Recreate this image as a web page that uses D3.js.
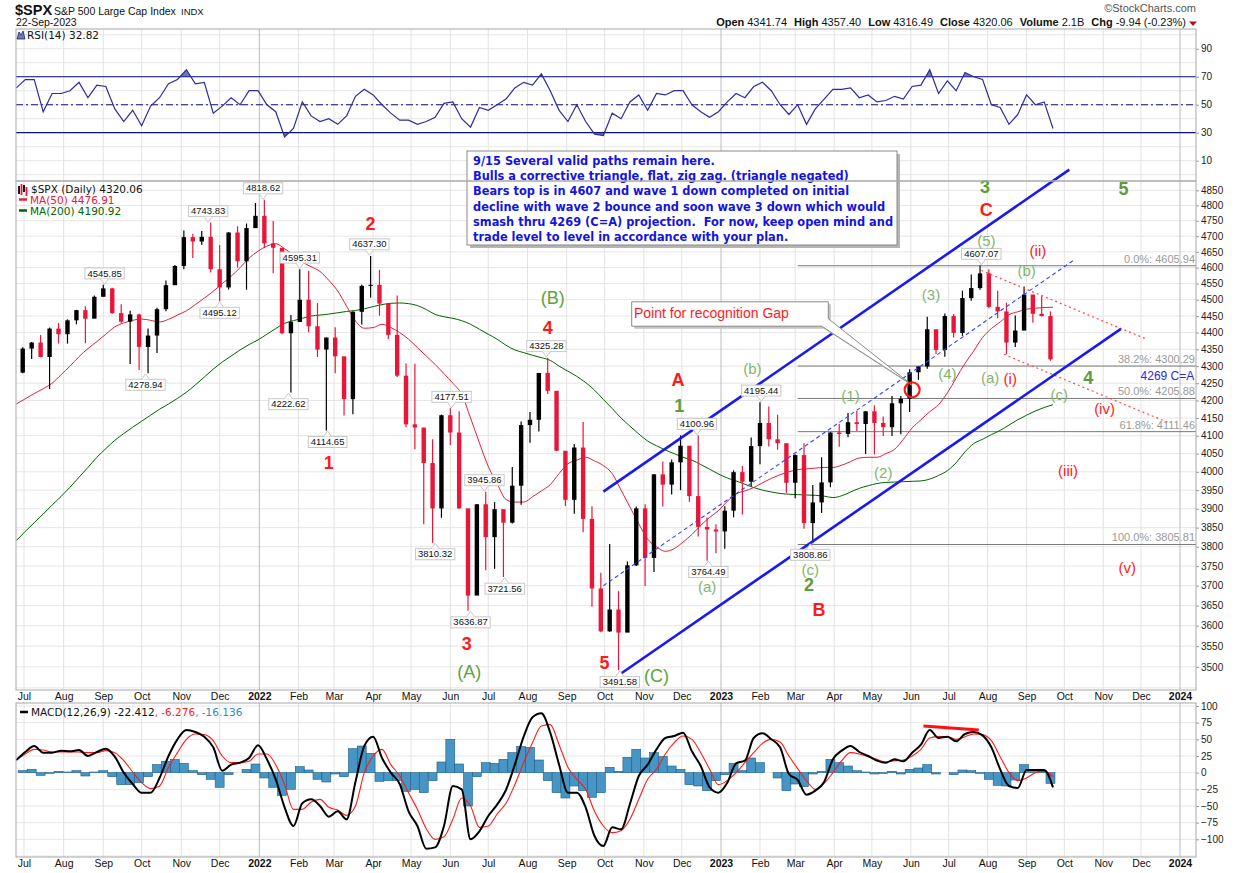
<!doctype html>
<html>
<head>
<meta charset="utf-8">
<title>$SPX Daily</title>
<script src="https://d3js.org/d3.v7.min.js"></script>
<style>
  body { margin: 0; background: #fff; }
  svg { display: block; }
  text { font-family: "Liberation Sans", Arial, sans-serif; }
  .verd { font-family: "DejaVu Sans", Verdana, sans-serif; }
</style>
</head>
<body>
<script>
// week ending Fridays, 25-Jun-2021 .. 22-Sep-2023 (118 weeks)
var parse = d3.timeParse("%Y-%m-%d");
var firstWeek = "2021-06-25", lastWeek = "2023-09-22";

var closes = [
  4281,4352,4370,4327,4412,4395,4437,4468,4442,4509,4535,4459,4433,4455,4357,4391,4471,4545,4605,4697,4683,4698,4595,4538,4712,4620,4726,4766,
  4677,4663,4398,4432,4500,4419,4349,4385,4329,4204,4463,4543,4546,4488,4393,4272,4132,4123,4024,3901,4158,4109,3901,3675,3912,3825,
  3899,3863,3962,4130,4145,4280,4228,4058,3924,4067,3873,3693,3586,3640,3583,3752,3901,3771,3993,3965,4026,4072,3934,3852,3845,3840,
  3895,3999,3973,4071,4136,4090,4079,3970,4046,3862,3917,3971,4109,4105,4138,4133,4169,4136,4124,4192,4205,4282,4299,4410,4348,4450,
  4399,4505,4536,4582,4478,4464,4370,4406,4516,4457,4450,4320];
var highs = [
  4286,4356,4372,4393,4415,4429,4440,4469,4480,4513,4546,4537,4486,4466,4457,4412,4475,4560,4608,4718,4708,4717,4744,4672,4713,4732,4741,4808,
  4819,4749,4611,4453,4595,4590,4490,4385,4416,4327,4465,4546,4637,4593,4471,4513,4308,4307,4081,4090,4160,4178,4169,3838,3913,3946,
  3918,3891,4013,4140,4167,4280,4325,4203,4041,4077,4139,3907,3733,3807,3686,3762,3906,3912,3993,4028,4034,4101,4052,4101,3877,3859,
  3907,4004,4016,4095,4195,4183,4159,4068,4048,4079,3964,4040,4110,4133,4164,4170,4170,4186,4154,4213,4213,4291,4299,4448,4409,4458,
  4456,4528,4578,4607,4595,4528,4491,4452,4541,4515,4511,4464];
var lows = [
  4262,4279,4321,4326,4233,4367,4367,4425,4368,4448,4510,4457,4427,4306,4289,4279,4339,4465,4547,4595,4630,4672,4585,4495,4532,4600,4531,4733,
  4662,4582,4395,4223,4451,4401,4327,4115,4279,4157,4161,4424,4506,4451,4381,4268,4124,4062,3859,3810,3876,4074,3900,3637,3705,3739,
  3743,3722,3861,3911,4080,4112,4219,4057,3907,3887,3838,3647,3584,3585,3492,3642,3750,3699,3735,3906,3938,3950,3919,3827,3764,3783,
  3795,3877,3885,3960,4021,4070,4061,3943,3928,3847,3809,3889,3958,4069,4096,4113,4049,4048,4099,4099,4104,4167,4260,4292,4336,4328,
  4385,4390,4497,4531,4474,4443,4335,4357,4415,4430,4449,4316];
var firstOpen = 4270;

var ma50 = [
  4190,4205,4220,4234,4250,4275,4300,4328,4352,4373,4395,4417,4429,4437,4441,4437,4432,4440,4453,4466,4485,4505,4526,4550,4573,4600,4630,4652,
  4668,4676,4660,4640,4617,4603,4588,4560,4527,4480,4435,4413,4415,4425,4415,4400,4380,4355,4330,4305,4278,4250,4218,4150,4080,4015,
  3968,3925,3918,3918,3932,3948,3965,3995,4022,4032,4040,4030,4017,3995,3950,3905,3860,3820,3800,3788,3795,3812,3832,3856,3877,3895,
  3920,3940,3948,3957,3970,3982,3992,4000,4006,4008,4010,4012,4012,4018,4028,4038,4040,4040,4050,4062,4090,4122,4145,4168,4188,4222,
  4265,4308,4345,4385,4412,4432,4454,4463,4471,4474,4476,4477];
var ma200 = [
  3816,3840,3863,3886,3910,3933,3958,3985,4012,4040,4064,4087,4106,4124,4141,4158,4175,4190,4206,4224,4245,4268,4291,4312,4330,4348,4364,4378,
  4395,4412,4428,4436,4443,4450,4453,4456,4460,4464,4467,4472,4479,4485,4489,4490,4488,4482,4470,4455,4448,4443,4436,4425,4410,4395,
  4380,4362,4348,4340,4332,4325,4317,4300,4285,4270,4252,4230,4203,4177,4150,4127,4105,4085,4072,4060,4050,4040,4032,4020,4007,3994,
  3983,3975,3966,3957,3950,3945,3941,3939,3938,3937,3936,3934,3930,3935,3945,3955,3962,3968,3971,3972,3973,3974,3975,3980,3990,4003,
  4025,4055,4078,4090,4103,4115,4130,4145,4158,4170,4180,4188];
var rsi = [
  62,68,68,45,58,58,60,66,55,64,63,47,38,46,35,49,55,65,68,75,65,66,44,49,55,50,60,60,
  50,45,27,33,52,42,38,40,36,42,56,61,57,50,44,39,39,36,38,41,51,52,40,34,48,46,
  50,54,62,66,64,72,60,46,38,50,38,29,28,44,40,52,57,46,58,57,60,60,50,45,41,45,
  52,58,55,63,66,60,50,43,50,36,47,54,61,61,62,55,57,52,53,56,54,63,64,75,58,67,
  60,73,70,68,50,48,36,43,57,50,52,33];
var macd = [
  19,31,40,30,30,33,32,34,25,31,36,24,0,-17,-30,-30,-8,25,50,64,61,54,38,3,12,15,22,41,
  20,-10,-52,-80,-46,-40,-50,-66,-58,-70,-14,40,54,22,0,-17,-58,-80,-114,-112,-80,-20,-25,-100,-88,-65,
  -48,-26,12,54,83,89,60,12,-30,-30,-52,-95,-110,-82,-85,-47,-5,12,35,52,55,60,32,10,-22,-30,
  -15,14,18,52,59,50,38,-2,-11,-33,-27,-14,20,33,40,31,25,18,15,20,17,30,42,64,52,54,
  47,58,61,56,38,5,-20,-23,4,4,4,-22];
var signal = [
  19,28,35,34,31,31,31,31,30,30,33,30,18,1,-15,-24,-20,8,30,50,58,57,48,25,15,15,17,28,
  28,12,-18,-55,-55,-44,-40,-52,-56,-64,-50,0,25,35,12,-5,-30,-55,-84,-100,-96,-70,-38,-50,-82,-80,
  -62,-46,-18,15,45,70,72,42,8,-10,-25,-58,-80,-90,-87,-70,-40,-10,5,28,45,55,50,30,5,-18,
  -12,0,15,30,44,50,46,25,6,-12,-25,-16,0,18,30,28,24,20,16,18,19,25,35,52,54,54,
  50,54,58,57,48,24,0,-12,-8,0,2,-6];

// highs / lows marked on the chart: date, value, 1 = above, -1 = below
var priceLabels = [
  ["2021-09-02",4545.85,1],["2021-10-04",4278.94,-1],["2021-11-22",4743.83,1],["2021-12-01",4495.12,-1],
  ["2022-01-04",4818.62,1],["2022-01-24",4222.62,-1],["2022-02-02",4595.31,1],["2022-02-24",4114.65,-1],
  ["2022-03-29",4637.30,1],["2022-05-20",3810.32,-1],["2022-06-02",4177.51,1],["2022-06-17",3636.87,-1],
  ["2022-06-28",3945.86,1],["2022-07-14",3721.56,-1],["2022-08-16",4325.28,1],["2022-10-13",3491.58,-1],
  ["2022-12-13",4100.96,1],["2022-12-22",3764.49,-1],["2023-02-02",4195.44,1],["2023-03-13",3808.86,-1],
  ["2023-07-27",4607.07,1]];

var fibLevels = [["0.0%",4605.94],["38.2%",4300.29],["50.0%",4205.88],["61.8%",4111.46],["100.0%",3805.81]];
var fibStart = "2023-03-03";

var waveRed = [["2","2022-03-30",4742],["1","2022-02-25",4026],["3","2022-06-14",3556],["4","2022-08-17",4416],
  ["5","2022-10-01",3510],["A","2022-11-28",4260],["B","2023-03-20",3640],["C","2023-07-31",4785]];
var waveGreen = [["1","2022-11-29",4187],["2","2023-03-12",3702],["3","2023-07-30",4861],["4","2023-10-20",4267],["5","2023-11-17",4855]];
var waveParen = [["(B)","2022-08-21",4506],["(A)","2022-06-16",3488],["(C)","2022-11-11",3479]];
var waveMinor = [["(b)","2023-01-26",4292],["(a)","2022-12-21",3697],["(c)","2023-03-13",3742],["(1)","2023-04-14",4213],
  ["(2)","2023-05-10",3998],["(3)","2023-06-17",4517],["(4)","2023-06-30",4278],["(5)","2023-07-31",4686],
  ["(b)","2023-09-01",4591],["(a)","2023-08-03",4267],["(c)","2023-09-27",4216]];
var waveRedMinor = [["(ii)","2023-09-10",4654],["(i)","2023-08-19",4263],["(iv)","2023-11-02",4176],["(iii)","2023-10-04",4003],["(v)","2023-11-20",3747]];

var channelUpper = [["2022-09-30",3946],["2023-10-05",4919]];
var channelLower = [["2022-10-12",3480],["2023-11-15",4411]];
var channelMid = [["2022-09-30",3700],["2023-10-09",4625]];
var redDotUpper = [["2023-07-27",4591],["2023-12-05",4381]];
var redDotLower = [["2023-08-14",4335],["2023-12-24",4135]];
var gapCircle = ["2023-06-02",4231];
var macdTopLine = [["2023-06-11",70],["2023-07-25",64]];

var noteLines = [
  "9/15 Several valid paths remain here.",
  "Bulls a corrective triangle, flat, zig zag. (triangle negated)",
  "Bears top is in 4607 and wave 1 down completed on initial",
  "decline with wave 2 bounce and soon wave 3 down which would",
  "smash thru 4269 (C=A) projection.  For now, keep open mind and",
  "trade level to level in accordance with your plan."];

var priceTicks = d3.range(3500, 4851, 50);
var rsiTicks = [90, 70, 50, 30, 10];
var macdTicks = [100, 75, 50, 25, 0, -25, -50, -75, -100];

// ---------------------------------------------------------------
var W = 1240, H = 873, L = 16, R = 1196;
var weeks = d3.timeFriday.range(parse(firstWeek), d3.timeDay.offset(parse(lastWeek), 1));
var mid = function(d) { return d3.timeDay.offset(d, -2); };

var x = d3.scaleTime()
  .domain([new Date(2021,6,1), new Date(2022,0,1), new Date(2023,0,1), new Date(2024,0,1)])
  .range([24, 259.3, 721, 1180]);
var ry = d3.scaleLinear().domain([-4.5, 104.1]).range([181, 29]);
var y = d3.scaleLog().domain([3445, 4881]).range([690, 181]);
var my = d3.scaleLinear().domain([-126.5, 104.5]).range([857, 703]);

var RED = "#e8173a", GRN = "#5c9c3c", LGRN = "#82b66c", WRED = "#ff1a1a";

var svg = d3.select("body").append("svg").attr("width", W).attr("height", H);
svg.append("rect").attr("width", W).attr("height", H).attr("fill", "#fff");

var defs = svg.append("defs");
function clip(id, y0, y1) {
  defs.append("clipPath").attr("id", id).append("rect")
    .attr("x", L).attr("y", y0).attr("width", R - L).attr("height", y1 - y0);
}
clip("cRsi", 29, 181); clip("cPrice", 181, 690); clip("cMacd", 703, 857);
clip("cRsiHi", 29, ry(70)); clip("cRsiLo", ry(30), 181);

var months = d3.timeMonth.range(new Date(2021,6,1), new Date(2024,0,2));

// grids
function vgrid(top, bottom) {
  svg.append("g").selectAll("line").data(months).join("line")
    .attr("x1", function(d){ return x(d); }).attr("x2", function(d){ return x(d); })
    .attr("y1", top).attr("y2", bottom)
    .attr("stroke", function(d){ return d.getMonth() === 0 ? "#bcbcbc" : "#e3e3e3"; });
}
function hgrid(vals, sc) {
  svg.append("g").selectAll("line").data(vals).join("line")
    .attr("x1", L).attr("x2", R)
    .attr("y1", function(d){ return sc(d); }).attr("y2", function(d){ return sc(d); })
    .attr("stroke", "#e6e6e6");
}
hgrid(d3.range(0, 101, 10), ry); vgrid(29, 181);
hgrid(d3.range(3450, 4851, 50), y); vgrid(181, 690);
hgrid(d3.range(-125, 101, 25), my); vgrid(703, 857);

// month labels
function monthAxis(yy) {
  var g = svg.append("g").attr("transform", "translate(0," + yy + ")")
    .call(d3.axisBottom(x).tickValues(months).tickSize(0).tickPadding(2)
      .tickFormat(function(d){ return d.getMonth() === 0 ? d3.timeFormat("%Y")(d) : d3.timeFormat("%b")(d); }));
  g.select(".domain").remove();
  g.attr("font-family", "Liberation Sans, Arial, sans-serif").attr("font-size", 10.5);
  g.selectAll("text").attr("fill", "#111")
    .attr("font-weight", function(d){ return d.getMonth() === 0 ? "bold" : "normal"; });
}
monthAxis(691); monthAxis(858);

// right axes
function rightAxis(sc, vals, fmt) {
  var g = svg.append("g").attr("transform", "translate(" + R + ",0)")
    .call(d3.axisRight(sc).tickValues(vals).tickSize(3).tickPadding(2).tickFormat(fmt));
  g.select(".domain").remove();
  g.attr("font-family", "Liberation Sans, Arial, sans-serif").attr("font-size", 10);
  g.selectAll("line").attr("stroke", "#999");
  g.selectAll("text").attr("fill", "#222");
}
rightAxis(ry, rsiTicks, d3.format("d"));
rightAxis(y, priceTicks, d3.format("d"));
rightAxis(my, macdTicks, d3.format("d"));

// ---------------- RSI panel ----------------
var rsiG = svg.append("g").attr("clip-path", "url(#cRsi)");
var rsiLine = d3.line().x(function(d,i){ return x(weeks[i]); }).y(function(d){ return ry(d); });
rsiG.append("path").datum(rsi).attr("clip-path", "url(#cRsiHi)")
  .attr("d", d3.area().x(function(d,i){ return x(weeks[i]); }).y0(ry(70)).y1(function(d){ return ry(d); }))
  .attr("fill", "#6a7fa6");
rsiG.append("path").datum(rsi).attr("clip-path", "url(#cRsiLo)")
  .attr("d", d3.area().x(function(d,i){ return x(weeks[i]); }).y0(ry(30)).y1(function(d){ return ry(d); }))
  .attr("fill", "#6a7fa6");
[70, 30].forEach(function(v){
  rsiG.append("line").attr("x1", L).attr("x2", R).attr("y1", ry(v)).attr("y2", ry(v)).attr("stroke", "#10107a").attr("stroke-width", 1.2);
});
rsiG.append("line").attr("x1", L).attr("x2", R).attr("y1", ry(50)).attr("y2", ry(50))
  .attr("stroke", "#10107a").attr("stroke-width", 1.1).attr("stroke-dasharray", "7,3,2,3");
rsiG.append("path").datum(rsi).attr("d", rsiLine).attr("fill", "none").attr("stroke", "#2d2d9c").attr("stroke-width", 1.2);

// ---------------- price panel ----------------
var pG = svg.append("g").attr("clip-path", "url(#cPrice)");
// fib levels
var fx0 = x(parse(fibStart));
fibLevels.forEach(function(f){
  pG.append("line").attr("x1", fx0).attr("x2", R).attr("y1", y(f[1])).attr("y2", y(f[1]))
    .attr("stroke", "#7a7a7a").attr("stroke-width", 1);
  pG.append("text").attr("x", R - 1).attr("y", y(f[1]) - 3).attr("text-anchor", "end")
    .attr("font-size", 11).attr("fill", "#9a9a9a").text(f[0] + ": " + f[1].toFixed(2));
});
var maLine = function(arr) {
  return d3.line().curve(d3.curveMonotoneX).x(function(d,i){ return x(weeks[i]); }).y(function(d){ return y(d); })(arr);
};
pG.append("path").attr("d", maLine(ma200)).attr("fill", "none").attr("stroke", "#006400").attr("stroke-width", 1);
pG.append("path").attr("d", maLine(ma50)).attr("fill", "none").attr("stroke", "#e0203c").attr("stroke-width", 1);

// weekly candles
var cG = pG.append("g");
weeks.forEach(function(d, i) {
  var cx = x(mid(d));
  var open = i ? closes[i-1] : firstOpen;
  var down = open > closes[i];
  var col = down ? RED : "#000";
  cG.append("line").attr("x1", cx).attr("x2", cx).attr("y1", y(highs[i])).attr("y2", y(lows[i]))
    .attr("stroke", col).attr("stroke-width", 1.2);
  var top = y(Math.max(open, closes[i])), bot = y(Math.min(open, closes[i]));
  cG.append("rect").attr("x", cx - 2.2).attr("y", top).attr("width", 4.4).attr("height", Math.max(1, bot - top))
    .attr("fill", col);
});

// trend lines
function tline(pts, stroke, w, dash) {
  var p = svg.append("line")
    .attr("x1", x(parse(pts[0][0]))).attr("y1", y(pts[0][1]))
    .attr("x2", x(parse(pts[1][0]))).attr("y2", y(pts[1][1]))
    .attr("stroke", stroke).attr("stroke-width", w);
  if (dash) p.attr("stroke-dasharray", dash);
}
tline(redDotUpper, "#ff4a4a", 1.2, "2,3");
tline(redDotLower, "#ff4a4a", 1.2, "2,3");
tline(channelMid, "#3344ff", 1.1, "4,3");
tline(channelUpper, "#1a1aee", 2.6);
tline(channelLower, "#1a1aee", 2.6);

// note box
var nb = svg.append("g");
nb.append("rect").attr("x", 470).attr("y", 154).attr("width", 430).attr("height", 94).attr("fill", "#b5b5b5");
nb.append("rect").attr("x", 467).attr("y", 151).attr("width", 430).attr("height", 94).attr("fill", "#fff").attr("stroke", "#8a8a8a");
noteLines.forEach(function(t, i){
  nb.append("text").attr("class", "verd").attr("x", 473).attr("y", 165 + i * 15.2)
    .attr("font-size", 11.4).attr("font-weight", "bold").attr("fill", "#1414e0")
    .style("white-space", "pre").text(t);
});

// callout
var co = svg.append("g");
var call = [[631.7,301.8],[828.3,301.8],[828.3,318.7],[911.7,384.7],[821.7,326.2],[631.7,326.2]];
co.append("polygon").attr("points", call.map(function(p){ return (p[0]+2.5) + "," + (p[1]+2.5); }).join(" ")).attr("fill", "#c4c4c4");
co.append("polygon").attr("points", call.map(function(p){ return p.join(","); }).join(" ")).attr("fill", "#fff").attr("stroke", "#8a8a8a");
co.append("text").attr("x", 634).attr("y", 318).attr("font-size", 14).attr("fill", WRED).text("Point for recognition Gap");

svg.append("circle").attr("cx", x(parse(gapCircle[0]))).attr("cy", y(gapCircle[1])).attr("r", 7.5)
  .attr("fill", "none").attr("stroke", WRED).attr("stroke-width", 2.2);

// value labels
var lab = svg.append("g");
priceLabels.forEach(function(p){
  var px = x(parse(p[0])), py = y(p[1]), up = p[2] > 0;
  var g = lab.append("g");
  var t = g.append("text").attr("x", px).attr("text-anchor", "middle").attr("font-size", 9.5)
    .attr("fill", "#111").text(p[1].toFixed(2));
  var w = t.node().getComputedTextLength() + 5;
  var by = up ? py - 17 : py + 6;
  t.attr("y", by + 8.6);
  g.insert("rect", "text").attr("x", px - w/2).attr("y", by).attr("width", w).attr("height", 11)
    .attr("fill", "#fff").attr("stroke", "#c8c8c8");
  var baseY = up ? by + 11 : by, tipY = up ? py - 0.5 : py + 0.5;
  g.insert("path", "text").attr("d", "M" + (px-4) + "," + baseY + "L" + px + "," + tipY + "L" + (px+4) + "," + baseY)
    .attr("fill", "#fff").attr("stroke", "#c8c8c8");
});

// wave counts
function waves(arr, size, weight, color) {
  svg.append("g").selectAll("text").data(arr).join("text")
    .attr("x", function(d){ return x(parse(d[1])); })
    .attr("y", function(d){ return y(d[2]); })
    .attr("dy", "0.36em").attr("text-anchor", "middle")
    .attr("font-size", size).attr("font-weight", weight).attr("fill", color)
    .text(function(d){ return d[0]; });
}
waves(waveRed, 18, "bold", WRED);
waves(waveGreen, 18, "bold", GRN);
waves(waveParen, 18, "normal", "#5ea23e");
waves(waveMinor, 15, "normal", LGRN);
waves(waveRedMinor, 15, "normal", WRED);
svg.append("text").attr("x", x(parse("2023-12-22"))).attr("y", y(4273)).attr("dy", "0.36em")
  .attr("text-anchor", "middle").attr("font-size", 12).attr("fill", "#2727e6").text("4269 C=A");

// ---------------- MACD panel ----------------
var mG = svg.append("g").attr("clip-path", "url(#cMacd)");
var bw = x(weeks[1]) - x(weeks[0]);
weeks.forEach(function(d, i){
  var h = macd[i] - signal[i];
  mG.append("rect").attr("x", x(mid(d)) - bw/2).attr("width", bw)
    .attr("y", my(Math.max(0, h))).attr("height", Math.abs(my(h) - my(0)))
    .attr("fill", "#4795c4").attr("stroke", "#1d5d86").attr("stroke-width", 0.6);
});
var mLine = d3.line().curve(d3.curveMonotoneX).x(function(d,i){ return x(weeks[i]); }).y(function(d){ return my(d); });
mG.append("path").datum(signal).attr("d", mLine).attr("fill", "none").attr("stroke", "#ff1a1a").attr("stroke-width", 1.1);
mG.append("path").datum(macd).attr("d", mLine).attr("fill", "none").attr("stroke", "#000").attr("stroke-width", 2);
mG.append("line")
  .attr("x1", x(parse(macdTopLine[0][0]))).attr("y1", my(macdTopLine[0][1]))
  .attr("x2", x(parse(macdTopLine[1][0]))).attr("y2", my(macdTopLine[1][1]))
  .attr("stroke", "#ff1010").attr("stroke-width", 3);

// panel borders
[[29,181],[181,690],[703,857]].forEach(function(b){
  svg.append("rect").attr("x", L).attr("y", b[0]).attr("width", R - L).attr("height", b[1] - b[0])
    .attr("fill", "none").attr("stroke", "#a8a8a8");
});

// ---------------- header & legends ----------------
svg.append("text").attr("x", 15).attr("y", 15).attr("font-size", 14.5).attr("font-weight", "bold").attr("fill", "#111").text("$SPX");
svg.append("text").attr("x", 54).attr("y", 14.5).attr("font-size", 10.5).attr("fill", "#111").text("S&P 500 Large Cap Index");
svg.append("text").attr("x", 181).attr("y", 14.5).attr("font-size", 9.5).attr("fill", "#111").text("INDX");
svg.append("text").attr("x", 16).attr("y", 26).attr("font-size", 10.5).attr("fill", "#111").text("22-Sep-2023");
svg.append("text").attr("x", 1196).attr("y", 12).attr("text-anchor", "end").attr("font-size", 11).attr("fill", "#555").text("\u00a9StockCharts.com");

var hdr = svg.append("text").attr("x", 1186).attr("y", 25.5).attr("text-anchor", "end").attr("font-size", 11).attr("fill", "#111");
[["Open","4341.74"],["High","4357.40"],["Low","4316.49"],["Close","4320.06"],["Volume","2.1B"],["Chg","-9.94 (-0.23%)"]].forEach(function(p, i){
  hdr.append("tspan").attr("font-weight", "bold").attr("dx", i ? 7 : 0).text(p[0]);
  hdr.append("tspan").attr("dx", 3).text(p[1]);
});
svg.append("path").attr("d", "M1189,21.5L1197,21.5L1193,26Z").attr("fill", "#b01020");

// RSI legend
svg.append("path").attr("d", "M17,39L19,32L21,35L23,31L25,39Z").attr("fill", "#6a7fa6").attr("stroke", "#1c1c80").attr("stroke-width", 0.8);
svg.append("text").attr("class", "verd").attr("x", 27).attr("y", 38.5).attr("font-size", 10.5).attr("fill", "#111").text("RSI(14) 32.82");

// price legend
[[19,186,194,"#000"],[21.5,184,195,RED],[24,185,192,"#000"],[26.5,187,196,RED]].forEach(function(c){
  svg.append("line").attr("x1", c[0]).attr("x2", c[0]).attr("y1", c[1]).attr("y2", c[2]).attr("stroke", c[3]).attr("stroke-width", 1.8);
});
svg.append("text").attr("class", "verd").attr("x", 31).attr("y", 192.5).attr("font-size", 10.5).attr("fill", "#111").text("$SPX (Daily) 4320.06");
svg.append("line").attr("x1", 19).attr("x2", 27).attr("y1", 199.5).attr("y2", 199.5).attr("stroke", "#e0203c").attr("stroke-width", 2.5);
svg.append("text").attr("class", "verd").attr("x", 30).attr("y", 203.5).attr("font-size", 10.5).attr("fill", "#e0203c").text("MA(50) 4476.91");
svg.append("line").attr("x1", 19).attr("x2", 27).attr("y1", 210.5).attr("y2", 210.5).attr("stroke", "#006400").attr("stroke-width", 2.5);
svg.append("text").attr("class", "verd").attr("x", 30).attr("y", 214.5).attr("font-size", 10.5).attr("fill", "#006400").text("MA(200) 4190.92");

// MACD legend
svg.append("line").attr("x1", 20).attr("x2", 28).attr("y1", 712).attr("y2", 712).attr("stroke", "#000").attr("stroke-width", 2.5);
var ml = svg.append("text").attr("class", "verd").attr("x", 31).attr("y", 716).attr("font-size", 10.5);
ml.append("tspan").attr("fill", "#111").text("MACD(12,26,9) -22.412");
ml.append("tspan").attr("fill", "#ff1a1a").text(", -6.276");
ml.append("tspan").attr("fill", "#2e8bc0").text(", -16.136");
</script>
</body>
</html>
